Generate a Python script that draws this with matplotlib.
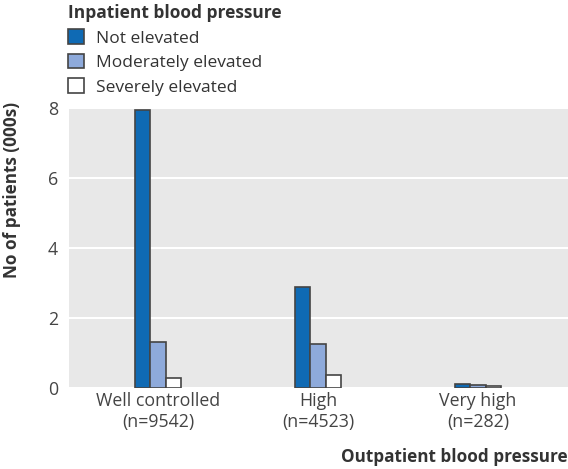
import numpy as np
import matplotlib
matplotlib.use("Agg")
import matplotlib.pyplot as plt
from matplotlib.patches import Patch

plt.rcParams['font.family'] = ['Open Sans', 'DejaVu Sans']

# data (thousands of patients)
groups = ['Well controlled\n(n=9542)', 'High\n(n=4523)', 'Very high\n(n=282)']
series = ['Not elevated', 'Moderately elevated', 'Severely elevated']
not_elevated = [7.94, 2.88, 0.12]
moderately = [1.32, 1.27, 0.09]
severely = [0.28, 0.38, 0.07]
yticks = [0, 2, 4, 6, 8]

colors = ['#0f6ab4', '#8eaadb', '#ffffff']
edge = '#444444'

fig = plt.figure(figsize=(5.68, 4.69), dpi=100)
ax = fig.add_axes([69/568, 81/469, 499/568, 280/469])
ax.set_facecolor('#e8e8e8')

x = np.arange(len(groups))
w = 0.095
for i, (vals, c) in enumerate(zip([not_elevated, moderately, severely], colors)):
    ax.bar(x + (i - 1) * w, vals, w, color=c, edgecolor=edge, linewidth=1.2, zorder=3)

ax.set_ylim(0, 8)
ax.set_xlim(-0.556, 2.5625)
ax.set_yticks(yticks)
ax.set_xticks(x)
ax.set_xticklabels(groups)
ax.yaxis.grid(True, color='white', linewidth=1.5, zorder=0)
ax.set_axisbelow(True)
for s in ax.spines.values():
    s.set_visible(False)
ax.tick_params(length=0, labelsize=12.8, colors='#444444', pad=8)
ax.tick_params(axis='x', pad=3)

fig.text(12/568, 1 - 190/469, 'No of patients (000s)', rotation=90, ha='center', va='center',
         fontsize=12.3, fontweight='bold', color='#333333')
fig.text(1.0, 1 - 457/469, 'Outpatient blood pressure', ha='right', va='center',
         fontsize=12.3, fontweight='bold', color='#333333')

handles = [Patch(facecolor=c, edgecolor=edge, linewidth=1.2) for c in colors]
leg = fig.legend(handles, series, loc='upper left', bbox_to_anchor=(61/568, 1.006),
                 title='Inpatient blood pressure', frameon=False, fontsize=12.5,
                 title_fontproperties={'weight': 'bold', 'size': 12.5},
                 handlelength=0.9, handleheight=0.9, handletextpad=0.7,
                 labelspacing=0.42, borderaxespad=0.0, labelcolor='#333333')
leg._legend_box.align = 'left'
leg.get_title().set_color('#333333')

fig.savefig('out.png', dpi=100)
